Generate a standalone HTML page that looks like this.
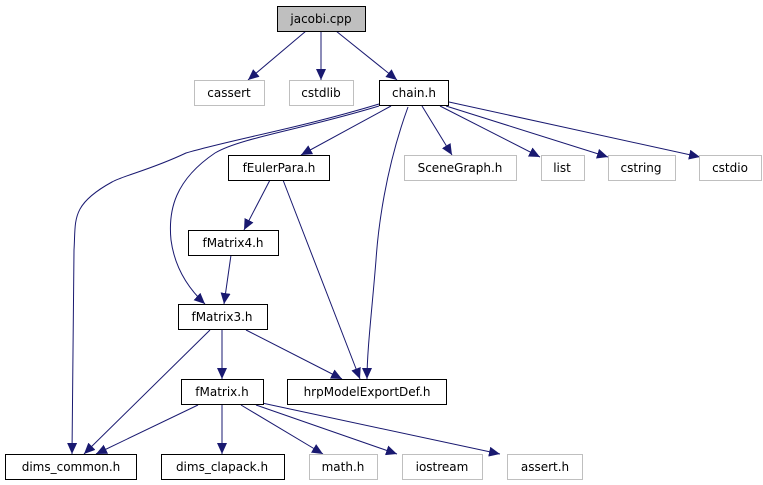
<!DOCTYPE html>
<html><head><meta charset="utf-8"><style>
body{margin:0;background:#fff}
svg{display:block}
text{font-family:"DejaVu Sans","Liberation Sans",sans-serif;font-size:12px;text-anchor:middle;fill:#000}
.b{fill:#fff;stroke:#000;stroke-width:1}
.g{fill:#fff;stroke:#bfbfbf;stroke-width:1}
.gt{fill:#8c8c8c}
path.e{fill:none;stroke:#191970;stroke-width:1}
</style></head><body>
<svg width="763" height="485" viewBox="0 0 763 485">
<defs><marker id="a" markerUnits="userSpaceOnUse" markerWidth="12" markerHeight="10" refX="11" refY="5" orient="auto"><path d="M0,0 L11,5 L0,10 z" fill="#191970"/></marker></defs>
<g>
<path class="e" marker-end="url(#a)" d="M306,31 L248,80"/>
<path class="e" marker-end="url(#a)" d="M321,31 L321,80"/>
<path class="e" marker-end="url(#a)" d="M336,31 L397,80"/>
<path class="e" marker-end="url(#a)" d="M391,106 L301,155"/>
<path class="e" marker-end="url(#a)" d="M422,106 L452,155"/>
<path class="e" marker-end="url(#a)" d="M440,106 L540,157"/>
<path class="e" marker-end="url(#a)" d="M446,106 L608,157"/>
<path class="e" marker-end="url(#a)" d="M449,102 L700,157"/>
<path class="e" marker-end="url(#a)" d="M379,104 C300,128 230,140 186,153 C150,170 125,175 112,182 C70,205 76,220 74,250 L72,454"/>
<path class="e" marker-end="url(#a)" d="M379,106 C300,130 240,138 215,153 C175,180 168,210 171,240 C175,270 190,290 205,304"/>
<path class="e" marker-end="url(#a)" d="M408,107 C385,170 378,230 376,260 C372,310 367,350 367,379"/>
<path class="e" marker-end="url(#a)" d="M270,180 L244,230"/>
<path class="e" marker-end="url(#a)" d="M283,180 L360,379"/>
<path class="e" marker-end="url(#a)" d="M231,255 L224,304"/>
<path class="e" marker-end="url(#a)" d="M222,330 L222,379"/>
<path class="e" marker-end="url(#a)" d="M246,330 L342,379"/>
<path class="e" marker-end="url(#a)" d="M210,330 L84,454"/>
<path class="e" marker-end="url(#a)" d="M198,405 L96,454"/>
<path class="e" marker-end="url(#a)" d="M222,405 L222,454"/>
<path class="e" marker-end="url(#a)" d="M241,405 L323,454"/>
<path class="e" marker-end="url(#a)" d="M256,405 L397,454"/>
<path class="e" marker-end="url(#a)" d="M262,403 L500,454"/>
</g>
<rect x="277.5" y="6.5" width="88" height="25" fill="#bfbfbf" stroke="#000"/><text x="321" y="23">jacobi.cpp</text>
<rect class="g" x="194.5" y="80.5" width="70" height="25"/><text x="229" y="97">cassert</text>
<rect class="g" x="289.5" y="80.5" width="64" height="25"/><text x="321" y="97">cstdlib</text>
<rect class="b" x="379.5" y="80.5" width="69" height="25"/><text x="414" y="97">chain.h</text>
<rect class="b" x="228.5" y="155.5" width="101" height="25"/><text x="279" y="172">fEulerPara.h</text>
<rect class="g" x="404.5" y="155.5" width="112" height="25"/><text x="460" y="172">SceneGraph.h</text>
<rect class="g" x="541.5" y="155.5" width="43" height="25"/><text x="562" y="172">list</text>
<rect class="g" x="608.5" y="155.5" width="67" height="25"/><text x="641" y="172">cstring</text>
<rect class="g" x="699.5" y="155.5" width="62" height="25"/><text x="730" y="172">cstdio</text>
<rect class="b" x="188.5" y="230.5" width="90" height="25"/><text x="233" y="247">fMatrix4.h</text>
<rect class="b" x="178.5" y="304.5" width="89" height="25"/><text x="222" y="321">fMatrix3.h</text>
<rect class="b" x="181.5" y="379.5" width="82" height="25"/><text x="222" y="396">fMatrix.h</text>
<rect class="b" x="287.5" y="379.5" width="159" height="25"/><text x="367" y="396">hrpModelExportDef.h</text>
<rect class="b" x="5.5" y="454.5" width="131" height="25"/><text x="71" y="471">dims_common.h</text>
<rect class="b" x="161.5" y="454.5" width="123" height="25"/><text x="222" y="471">dims_clapack.h</text>
<rect class="g" x="309.5" y="454.5" width="68" height="25"/><text x="343" y="471">math.h</text>
<rect class="g" x="402.5" y="454.5" width="80" height="25"/><text x="442" y="471">iostream</text>
<rect class="g" x="507.5" y="454.5" width="75" height="25"/><text x="545" y="471">assert.h</text>
</svg>
</body></html>
